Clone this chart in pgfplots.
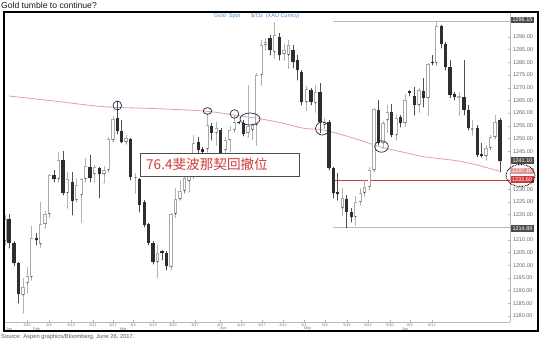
\documentclass[border=0pt]{standalone}
\usepackage{pgfplots}
\pgfplotsset{compat=1.18}
\usepackage{pgfplotstable}
\usepackage{fontspec}
\setmainfont{Liberation Sans}
\newfontfamily\cjk{Noto Sans CJK SC}
\definecolor{cdark}{HTML}{2E2E2E}
\definecolor{cup}{HTML}{A8A8A8}
\definecolor{wup}{HTML}{B4B4B4}
\definecolor{wdn}{HTML}{505050}
\definecolor{ma}{HTML}{E3A0A0}
\definecolor{redl}{HTML}{D03A3A}
\definecolor{navy}{HTML}{1A2A4A}
\definecolor{lblue}{HTML}{4A8AD0}

\pgfplotstableread{
x o h l c
5.0 1209.56 1219.81 1207.98 1218.23
23.0 1188.27 1194.97 1181.17 1191.42
27.3 1193.00 1199.31 1189.05 1195.76
31.7 1195.36 1215.47 1194.18 1210.74
40.7 1208.38 1224.94 1207.19 1216.26
45.0 1216.26 1221.39 1214.69 1220.21
49.7 1220.21 1235.98 1219.02 1235.58
58.3 1234.01 1244.65 1232.82 1241.50
67.3 1228.49 1236.77 1222.57 1234.01
76.7 1225.73 1234.40 1224.94 1231.64
81.3 1227.70 1234.40 1217.05 1234.01
85.7 1234.01 1242.29 1232.82 1239.13
94.7 1235.98 1239.53 1232.82 1238.74
104.0 1235.98 1239.13 1232.43 1237.56
108.3 1237.56 1250.57 1236.77 1249.78
113.0 1249.39 1258.85 1248.60 1257.67
126.0 1248.60 1251.36 1247.81 1250.17
135.2 1234.40 1236.37 1228.49 1234.80
157.5 1201.28 1207.98 1195.36 1204.83
171.0 1199.31 1220.60 1198.12 1220.21
175.5 1220.21 1230.46 1219.02 1226.12
180.0 1226.12 1233.61 1225.73 1229.27
184.5 1229.27 1236.77 1228.49 1234.40
189.0 1233.22 1238.74 1228.88 1235.58
193.7 1234.80 1251.36 1234.40 1248.20
207.3 1245.84 1260.03 1244.65 1255.30
216.2 1252.14 1256.48 1247.41 1254.12
225.3 1245.44 1250.57 1241.50 1249.39
229.8 1249.39 1254.91 1244.65 1253.33
234.3 1253.33 1259.24 1252.54 1256.48
248.0 1252.14 1271.07 1250.57 1254.91
252.5 1253.33 1256.09 1249.78 1255.30
256.7 1255.30 1275.80 1247.41 1275.02
261.3 1275.02 1288.82 1271.07 1286.85
265.7 1286.85 1289.61 1284.87 1288.03
274.7 1284.09 1295.92 1281.72 1290.79
284.0 1283.30 1287.24 1280.93 1284.87
288.5 1282.90 1288.82 1277.78 1286.85
306.7 1264.37 1270.68 1261.21 1269.50
315.7 1263.98 1271.07 1260.43 1268.31
324.5 1255.30 1258.06 1254.12 1256.48
342.5 1222.57 1230.46 1219.81 1226.51
355.7 1219.02 1227.30 1215.87 1224.94
360.2 1224.94 1230.46 1223.75 1228.49
364.5 1228.49 1233.61 1227.30 1230.85
369.2 1230.85 1238.74 1229.67 1237.56
374.0 1237.56 1262.00 1236.77 1261.61
383.0 1248.20 1256.88 1246.23 1256.09
387.3 1257.27 1263.19 1252.54 1260.43
396.2 1251.36 1259.24 1249.39 1258.06
405.0 1256.09 1267.52 1254.91 1265.16
419.0 1263.19 1269.89 1260.43 1269.10
428.0 1265.95 1279.75 1259.24 1279.35
436.7 1279.75 1296.15 1278.96 1294.34
459.0 1265.95 1268.31 1259.24 1266.74
472.7 1253.33 1257.27 1251.36 1254.12
486.0 1243.08 1247.41 1241.50 1246.23
490.7 1246.23 1251.36 1245.44 1250.57
495.0 1250.57 1259.24 1249.78 1256.48
}\upcandles

\pgfplotstableread{
x o h l c
9.0 1218.23 1220.21 1206.80 1208.77
14.0 1208.77 1209.56 1199.70 1200.88
18.3 1200.88 1201.28 1185.11 1188.66
36.3 1210.74 1212.71 1207.98 1209.95
54.0 1235.58 1237.56 1232.82 1234.01
63.0 1241.50 1245.05 1227.70 1228.49
72.3 1232.82 1236.77 1219.81 1225.33
90.0 1238.74 1243.47 1232.82 1234.40
99.3 1238.34 1238.74 1226.51 1235.98
117.3 1258.06 1264.76 1251.75 1252.93
121.7 1252.93 1257.27 1248.20 1248.60
130.7 1249.78 1250.17 1233.61 1234.80
139.7 1234.01 1234.40 1220.99 1223.75
144.3 1224.94 1225.73 1215.08 1215.87
148.7 1216.26 1216.66 1207.98 1208.77
153.0 1208.77 1209.56 1200.49 1201.28
162.0 1205.62 1206.01 1202.07 1204.83
166.3 1204.83 1205.62 1198.12 1199.70
198.2 1248.60 1250.57 1244.26 1245.44
202.5 1245.84 1246.62 1243.47 1244.65
211.7 1254.91 1256.09 1249.39 1252.14
220.8 1253.33 1254.12 1243.47 1244.26
238.8 1256.48 1256.88 1255.69 1256.09
243.3 1256.09 1257.27 1250.96 1251.75
270.0 1289.61 1290.79 1282.90 1284.87
279.3 1290.00 1291.58 1280.93 1282.90
293.0 1284.87 1286.85 1277.78 1280.14
297.7 1280.93 1282.90 1273.04 1276.99
301.7 1276.20 1276.99 1263.19 1264.37
311.0 1269.10 1269.89 1263.19 1264.37
320.0 1268.31 1271.86 1252.14 1256.48
329.0 1256.48 1257.27 1237.56 1238.34
333.3 1238.34 1238.74 1226.51 1228.49
337.7 1228.88 1236.37 1225.73 1228.09
346.7 1226.12 1227.70 1214.89 1220.99
351.3 1220.99 1222.57 1217.05 1219.02
378.3 1261.21 1265.16 1247.41 1248.20
391.7 1260.43 1263.58 1250.57 1251.36
400.7 1258.45 1259.24 1254.51 1256.09
409.7 1268.71 1269.10 1266.74 1267.92
414.5 1266.74 1270.28 1259.24 1263.19
423.3 1268.71 1273.83 1262.40 1265.95
432.3 1280.14 1282.90 1278.96 1279.75
441.3 1294.34 1294.73 1285.66 1287.24
445.7 1287.24 1288.03 1276.99 1278.17
450.0 1278.17 1280.93 1265.95 1267.13
454.7 1267.52 1268.31 1265.16 1266.34
464.0 1266.34 1280.93 1259.24 1261.21
468.3 1261.21 1263.19 1253.33 1254.12
477.2 1254.12 1255.30 1242.68 1243.47
481.5 1243.86 1248.20 1242.68 1243.08
500.0 1257.27 1258.06 1236.77 1241.10
}\downcandles

\pgfplotsset{candle/.style={only marks, mark=*, mark size=0.01pt,
  mark options={draw=none, fill=none}, forget plot,
  error bars/.cd, y dir=plus, y explicit, error mark=none}}

\begin{document}
\begin{tikzpicture}
\useasboundingbox (0,0) rectangle (550bp,-341bp);
\begin{axis}[
  at={(4bp,-322bp)}, anchor=south west,
  scale only axis, width=506bp, height=310bp,
  xmin=4, xmax=510, ymin=1177.64, ymax=1299.86,
  axis x line*=bottom, axis y line*=right,
  axis line style={draw=gray!55, line width=0.6bp},
  major tick length=2bp,
  tick style={draw=gray!60, line width=0.4bp},
  ytick={1180,1185,1190,1195,1200,1205,1210,1220,1225,1230,1245,1250,1255,1260,1265,1270,1275,1280,1285,1290},
  yticklabel style={font=\fontsize{5.5bp}{6bp}\selectfont, text=black!60, xshift=-0.5bp},
  xtick={27,49,71,93,113,133,153,173,195,220,241,262,283,304,325,347,368,390,410,432},
  xticklabels={1/30,2/6,2/13,2/21,2/27,3/6,3/13,3/20,3/27,4/3,4/10,4/17,4/24,5/1,5/8,5/15,5/22,5/30,6/5,6/12},
  xticklabel style={font=\fontsize{3.8bp}{4bp}\selectfont, text=black!55, yshift=1.6bp},
  /pgf/number format/.cd, fixed, fixed zerofill, precision=2, 1000 sep={}, assume math mode=true
]
% moving average
\addplot[ma, line width=0.8bp, smooth] coordinates {
(9,1266.74) (54,1264.76) (104,1262.52) (154,1261.80) (204,1260.82) (234,1259.24)
(261,1257.67) (280,1256.29) (304,1254.00) (324,1253.33) (354,1250.06) (381,1246.62)
(404,1244.53) (424,1242.80) (457,1241.22) (477,1239.53) (499,1237.16)};
% reference lines
\addplot[gray!55, line width=0.7bp] coordinates {(333,1296.15) (510,1296.15)};
\addplot[gray!55, line width=0.7bp] coordinates {(333,1214.89) (510,1214.89)};
\addplot[redl, line width=0.8bp] coordinates {(334,1233.60) (510,1233.60)};
% wicks
\addplot[candle, error bar style={line width=0.6bp, draw=wup}]
  table[x=x, y=l, y error plus expr=\thisrow{h}-\thisrow{l}] {\upcandles};
\addplot[candle, error bar style={line width=0.6bp, draw=wdn}]
  table[x=x, y=l, y error plus expr=\thisrow{h}-\thisrow{l}] {\downcandles};
% up bodies (hollow)
\addplot[candle, error bar style={line width=3.2bp, draw=cup}]
  table[x=x, y=o, y error plus expr=\thisrow{c}-\thisrow{o}] {\upcandles};
\addplot[candle, error bar style={line width=1.8bp, draw=white}]
  table[x=x, y expr=\thisrow{o}+0.3, y error plus expr={max(\thisrow{c}-\thisrow{o}-0.6,0)}] {\upcandles};
% down bodies (filled)
\addplot[candle, error bar style={line width=3.2bp, draw=cdark}]
  table[x=x, y=c, y error plus expr={max(\thisrow{o}-\thisrow{c},0.35)}] {\downcandles};
\end{axis}
\begin{scope}[x=1bp, y=-1bp]
% outer frame
\draw[black, line width=1.5bp] (4,12) rectangle (538,331);
% title and source
\node[anchor=west, inner sep=0, font=\fontsize{8.6bp}{9bp}\selectfont, text=black!90] at (1,5.5) {Gold tumble to continue?};
\node[anchor=west, inner sep=0, font=\fontsize{5.8bp}{6bp}\selectfont, text=black!65] at (1,337) {Source: Aspen graphics/Bloomberg, June 26, 2017.};
% top series label
\node[anchor=west, inner sep=0, font=\fontsize{5.5bp}{6bp}\selectfont, text=lblue] at (214,16) {Gold\ \ Spot\qquad \$/Oz\ \ (XAU Curncy)};
% month labels
\foreach \xx/\mm in {6/Jan,33/Feb,120/Mar,220/Apr,304/May,402/Jun}
  \node[anchor=west, inner sep=0, font=\fontsize{3.8bp}{4bp}\selectfont, text=black!55] at (\xx,328.8) {\mm};
% ellipses
\draw[navy, line width=0.7bp] (117.3,105.5) ellipse [x radius=4.3, y radius=4.5];
\draw[navy, line width=0.7bp] (207.5,111) ellipse [x radius=4.3, y radius=3.3];
\draw[navy, line width=0.7bp] (234.5,114) ellipse [x radius=4.3, y radius=4.3];
\draw[navy, line width=0.7bp] (250,119) ellipse [x radius=10, y radius=6];
\draw[navy, line width=0.7bp] (322.3,128.5) ellipse [x radius=6.7, y radius=6.5];
\draw[navy, line width=0.7bp] (381.5,146.5) ellipse [x radius=6.8, y radius=5.7];
% text box
\draw[fill=white, draw=black!70, line width=0.8bp] (140,153) rectangle (299,176);
\node[anchor=west, inner sep=0, text=redl, font=\cjk\fontsize{13.6bp}{14bp}\selectfont] at (146,164.5) {76.4斐波那契回撤位};
% right side value labels
\tikzset{vlab/.style={inner xsep=1bp, inner ysep=0.6bp, font=\fontsize{5.5bp}{6bp}\selectfont, text=white, minimum width=23bp, minimum height=6.5bp}}
\node[vlab, fill=black!70] at (522.5,20) {1296.15};
\node[vlab, fill=black!70] at (522.5,160.5) {1241.10};
\node[vlab, fill=black!70] at (522.5,228.5) {1214.89};
\node[vlab, fill=redl!55] at (522,171) {1237.16};
\node[vlab, fill=redl] at (522,179.5) {1233.60};
\draw[black, line width=0.9bp, dash pattern=on 0.8bp off 0.8bp] (520.5,175.5) ellipse [x radius=14.5, y radius=11];
\end{scope}
\end{tikzpicture}
\end{document}
